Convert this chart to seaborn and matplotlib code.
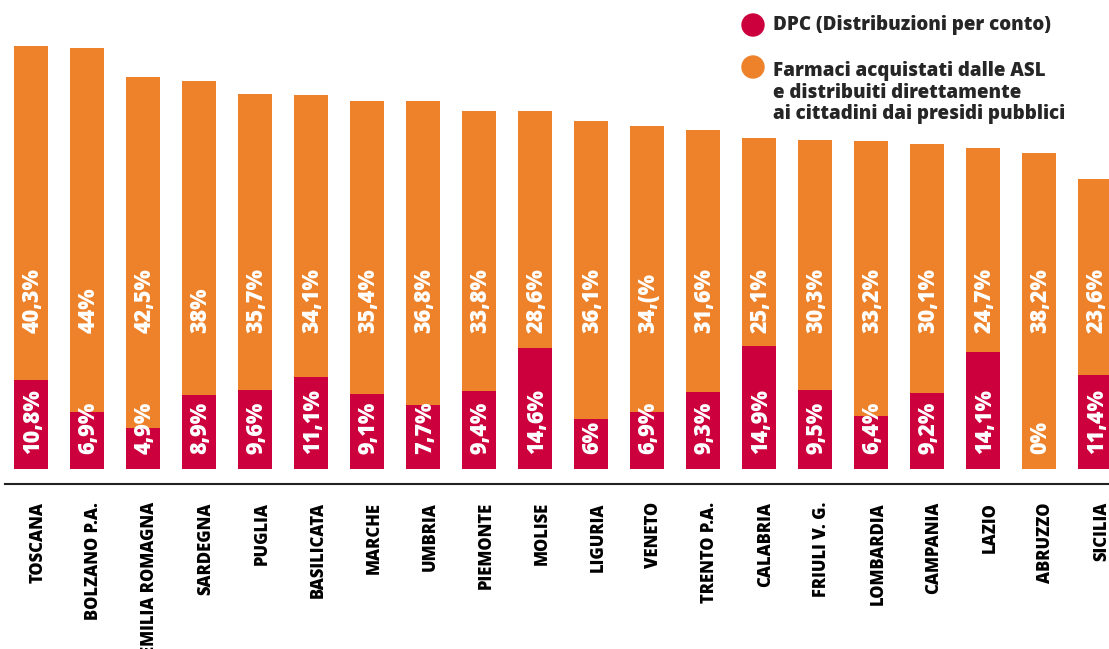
import matplotlib
matplotlib.use("Agg")
import matplotlib.pyplot as plt
from matplotlib.patches import Circle
from matplotlib.transforms import ScaledTranslation
import seaborn as sns
import numpy as np

regions = ["TOSCANA", "BOLZANO P.A.", "EMILIA ROMAGNA", "SARDEGNA", "PUGLIA",
           "BASILICATA", "MARCHE", "UMBRIA", "PIEMONTE", "MOLISE", "LIGURIA",
           "VENETO", "TRENTO P.A.", "CALABRIA", "FRIULI V. G.", "LOMBARDIA",
           "CAMPANIA", "LAZIO", "ABRUZZO", "SICILIA"]
dpc = [10.8, 6.9, 4.9, 8.9, 9.6, 11.1, 9.1, 7.7, 9.4, 14.6, 6.0,
       6.9, 9.3, 14.9, 9.5, 6.4, 9.2, 14.1, 0.0, 11.4]
asl = [40.3, 44.0, 42.5, 38.0, 35.7, 34.1, 35.4, 36.8, 33.8, 28.6, 36.1,
       34.5, 31.6, 25.1, 30.3, 33.2, 30.1, 24.7, 38.2, 23.6]
dpc_labels = ["10,8%", "6,9%", "4,9%", "8,9%", "9,6%", "11,1%", "9,1%", "7,7%",
              "9,4%", "14,6%", "6%", "6,9%", "9,3%", "14,9%", "9,5%", "6,4%",
              "9,2%", "14,1%", "0%", "11,4%"]
asl_labels = ["40,3%", "44%", "42,5%", "38%", "35,7%", "34,1%", "35,4%", "36,8%",
              "33,8%", "28,6%", "36,1%", "34,(%", "31,6%", "25,1%", "30,3%",
              "33,2%", "30,1%", "24,7%", "38,2%", "23,6%"]
legend_dpc = "DPC (Distribuzioni per conto)"
legend_asl = "Farmaci acquistati dalle ASL\ne distribuiti direttamente\nai cittadini dai presidi pubblici"

RED = "#CC003C"
ORANGE = "#ED822A"

sns.set_style("white")
plt.rcParams["font.family"] = ["Open Sans", "DejaVu Sans"]

W, H = 1109, 649
fig = plt.figure(figsize=(W / 100, H / 100), dpi=100)
ax = fig.add_axes([5 / W, 165 / H, 1104 / W, 484 / H])

totals = [a + b for a, b in zip(dpc, asl)]
sns.barplot(x=regions, y=totals, color=ORANGE, saturation=1, width=0.607,
            linewidth=0, ax=ax)
sns.barplot(x=regions, y=dpc, color=RED, saturation=1, width=0.607,
            linewidth=0, ax=ax)

for i in range(len(regions)):
    ax.text(i + 0.03, 16.4, asl_labels[i], rotation=90, color="white",
            fontsize=15.5, fontweight=800, ha="center", va="bottom")
    ax.text(i + 0.03, 1.8, dpc_labels[i], rotation=90, color="white",
            fontsize=15.5, fontweight=800, ha="center", va="bottom")

ax.set_xlim(-0.464, 19.25)
ax.set_ylim(-1.81, 56.66)
ax.set_yticks([])
ax.set_ylabel("")
ax.set_xlabel("")
for s in ["top", "left", "right"]:
    ax.spines[s].set_visible(False)
ax.spines["bottom"].set_color("#222222")
ax.spines["bottom"].set_linewidth(1.5)
ax.tick_params(axis="x", length=0, pad=13)
ax.set_xticks(range(len(regions)))
ax.set_xticklabels(regions, rotation=90, fontsize=12, fontweight=800,
                   ha="center", va="top", color="black")
shift = ScaledTranslation(7 / 100, 0, fig.dpi_scale_trans)
for lbl in ax.get_xticklabels():
    lbl.set_transform(lbl.get_transform() + shift)

# legend
fig.add_artist(Circle((753 / 100, (H - 25) / 100), 0.11, color=RED,
                      transform=fig.dpi_scale_trans))
fig.add_artist(Circle((753 / 100, (H - 67) / 100), 0.11, color=ORANGE,
                      transform=fig.dpi_scale_trans))
fig.text(773 / W, 1 - 25 / H, legend_dpc, fontsize=13.5, fontweight=800,
         ha="left", va="center")
fig.text(773 / W, 1 - 61 / H, legend_asl, fontsize=13.5, fontweight=800,
         ha="left", va="top", linespacing=1.1)

fig.savefig("out.png", dpi=100)
